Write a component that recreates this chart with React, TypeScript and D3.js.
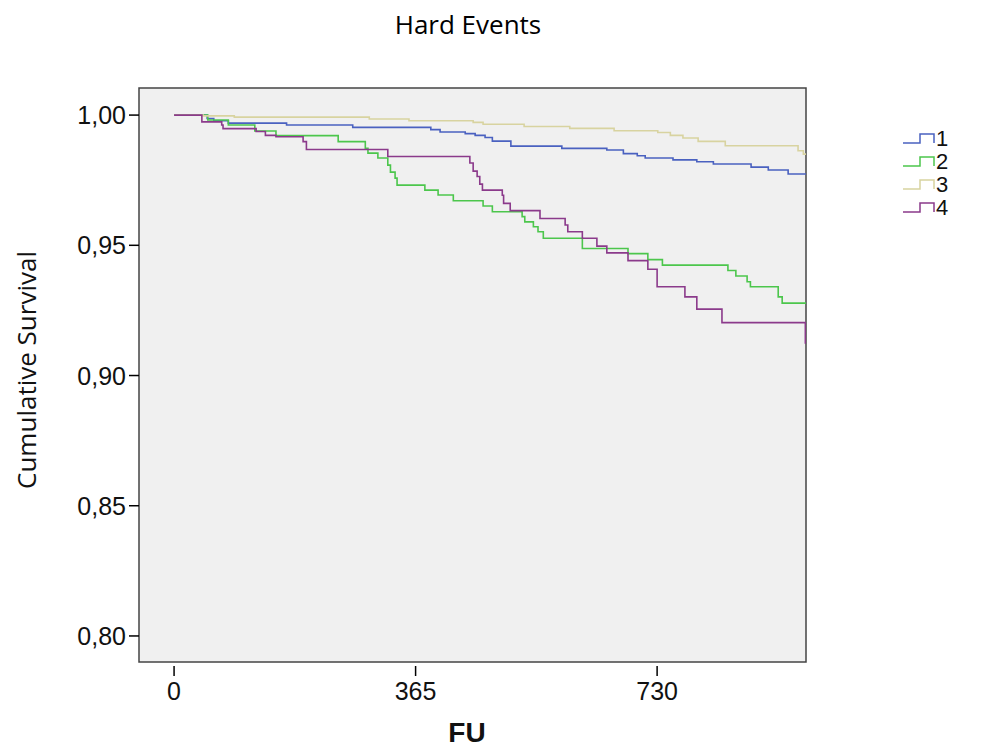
import React from "react";
import * as d3 from "d3";

const title = "Hard Events";
const xTitle = "FU";
const yTitle = "Cumulative Survival";
const xTicks = [0, 365, 730];
const yTicks = [0.8, 0.85, 0.9, 0.95, 1.0];
const groups = ["1", "2", "3", "4"];
const colors = ["#4a61c0", "#4cc64c", "#d8d3a0", "#8b3a8b"];
const endDay = 955;

// [day, survival] after each event step
const group1: [number, number][] = [
  [0, 1], [50, 0.9987], [60, 0.9978], [82, 0.9969], [170, 0.9962], [270, 0.9953],
  [388, 0.9944], [402, 0.9935], [440, 0.9929], [455, 0.9922], [470, 0.9914],
  [481, 0.99], [509, 0.9881], [586, 0.9872], [654, 0.9866], [679, 0.9852],
  [700, 0.9844], [712, 0.9835], [754, 0.9828], [790, 0.9821], [815, 0.9812],
  [872, 0.98], [898, 0.9789], [928, 0.9774],
];
const group2: [number, number][] = [
  [0, 1], [51, 0.9981], [82, 0.9962], [122, 0.9939], [154, 0.9921], [248, 0.9898],
  [289, 0.9872], [293, 0.9854], [308, 0.9835], [323, 0.9808], [327, 0.9781],
  [334, 0.9758], [337, 0.9731], [379, 0.9712], [399, 0.9693], [422, 0.9671],
  [467, 0.9651], [481, 0.9629], [526, 0.961], [530, 0.959], [543, 0.9571],
  [550, 0.9552], [558, 0.9527], [617, 0.9488], [686, 0.9468], [716, 0.9445],
  [738, 0.9424], [837, 0.9403], [849, 0.9382], [866, 0.936], [871, 0.9341],
  [913, 0.9302], [919, 0.9278],
];
const group3: [number, number][] = [
  [0, 1], [44, 0.9997], [91, 0.9992], [295, 0.9985], [355, 0.9978], [452, 0.9972],
  [467, 0.9965], [529, 0.9956], [598, 0.9949], [665, 0.994], [731, 0.9933],
  [750, 0.9922], [769, 0.9912], [792, 0.9899], [833, 0.9882], [943, 0.9863],
  [951, 0.985],
];
const group4: [number, number][] = [
  [0, 1], [42, 0.9974], [72, 0.9962], [74, 0.9948], [124, 0.9937], [138, 0.9922],
  [154, 0.9917], [195, 0.9898], [200, 0.9868], [323, 0.9841], [447, 0.9816],
  [452, 0.9785], [458, 0.9764], [462, 0.9735], [466, 0.9712], [496, 0.9692],
  [498, 0.9661], [508, 0.9633], [553, 0.9603], [591, 0.9578], [595, 0.9552],
  [617, 0.9527], [639, 0.9497], [654, 0.9471], [686, 0.9441], [716, 0.9408],
  [730, 0.9341], [772, 0.9302], [790, 0.9255], [828, 0.9203], [954, 0.9125],
];
const series = [group1, group2, group3, group4];

const W = 985;
const H = 749;
const box = { left: 139, right: 806, top: 88, bottom: 662 };

export default function App() {
  const x = d3.scaleLinear().domain([-53, 955]).range([box.left, box.right]);
  const y = d3.scaleLinear().domain([0.79, 1.0104]).range([box.bottom, box.top]);
  const line = d3
    .line<[number, number]>()
    .x((d) => x(d[0]))
    .y((d) => y(d[1]))
    .curve(d3.curveStepAfter);
  const fmt = (v: number) => v.toFixed(2).replace(".", ",");
  const axisFont = "'Liberation Sans', Arial, sans-serif";

  return (
    <svg
      width={W}
      height={H}
      style={{ position: "absolute", left: 0, top: 0, background: "#fff" }}
    >
      <defs>
        <clipPath id="plotclip">
          <rect x={box.left} y={box.top} width={box.right - box.left} height={box.bottom - box.top} />
        </clipPath>
      </defs>
      <text
        x={468}
        y={34}
        textAnchor="middle"
        fontFamily="'Open Sans', sans-serif"
        fontSize={26}
        fill="#000"
      >
        {title}
      </text>
      <rect
        x={box.left}
        y={box.top}
        width={box.right - box.left}
        height={box.bottom - box.top}
        fill="#f0f0f0"
        stroke="#444"
        strokeWidth={1.5}
      />
      {yTicks.map((t) => (
        <g key={t}>
          <line x1={box.left - 10} x2={box.left} y1={y(t)} y2={y(t)} stroke="#000" strokeWidth={1.5} />
          <text
            x={box.left - 13}
            y={y(t)}
            dy="0.36em"
            textAnchor="end"
            fontFamily={axisFont}
            fontSize={25}
            fill="#111"
          >
            {fmt(t)}
          </text>
        </g>
      ))}
      {xTicks.map((t) => (
        <g key={t}>
          <line x1={x(t)} x2={x(t)} y1={box.bottom + 4} y2={box.bottom + 14} stroke="#000" strokeWidth={1.5} />
          <text
            x={x(t)}
            y={700}
            textAnchor="middle"
            fontFamily={axisFont}
            fontSize={25}
            fill="#111"
          >
            {t}
          </text>
        </g>
      ))}
      <text
        x={467}
        y={742}
        textAnchor="middle"
        fontFamily={axisFont}
        fontWeight="bold"
        fontSize={28}
        fill="#111"
      >
        {xTitle}
      </text>
      <text
        transform={`translate(36, ${(box.top + box.bottom) / 2 - 5}) rotate(-90)`}
        textAnchor="middle"
        fontFamily="'Open Sans', sans-serif"
        fontSize={26}
        fill="#111"
      >
        {yTitle}
      </text>
      <g clipPath="url(#plotclip)">
        {series.map((s, i) => {
          const pts: [number, number][] = [...s, [endDay, s[s.length - 1][1]]];
          return (
            <path key={i} d={line(pts) || ""} fill="none" stroke={colors[i]} strokeWidth={1.6} />
          );
        })}
      </g>
      {groups.map((g, i) => {
        const cy = 138 + i * 23;
        return (
          <g key={g}>
            <path
              d={`M903,${cy + 5} H920 V${cy - 4} H934 V${cy + 5}`}
              fill="none"
              stroke={colors[i]}
              strokeWidth={1.5}
            />
            <text x={936} y={cy} dy="0.36em" fontFamily={axisFont} fontSize={22} fill="#111">
              {g}
            </text>
          </g>
        );
      })}
    </svg>
  );
}
